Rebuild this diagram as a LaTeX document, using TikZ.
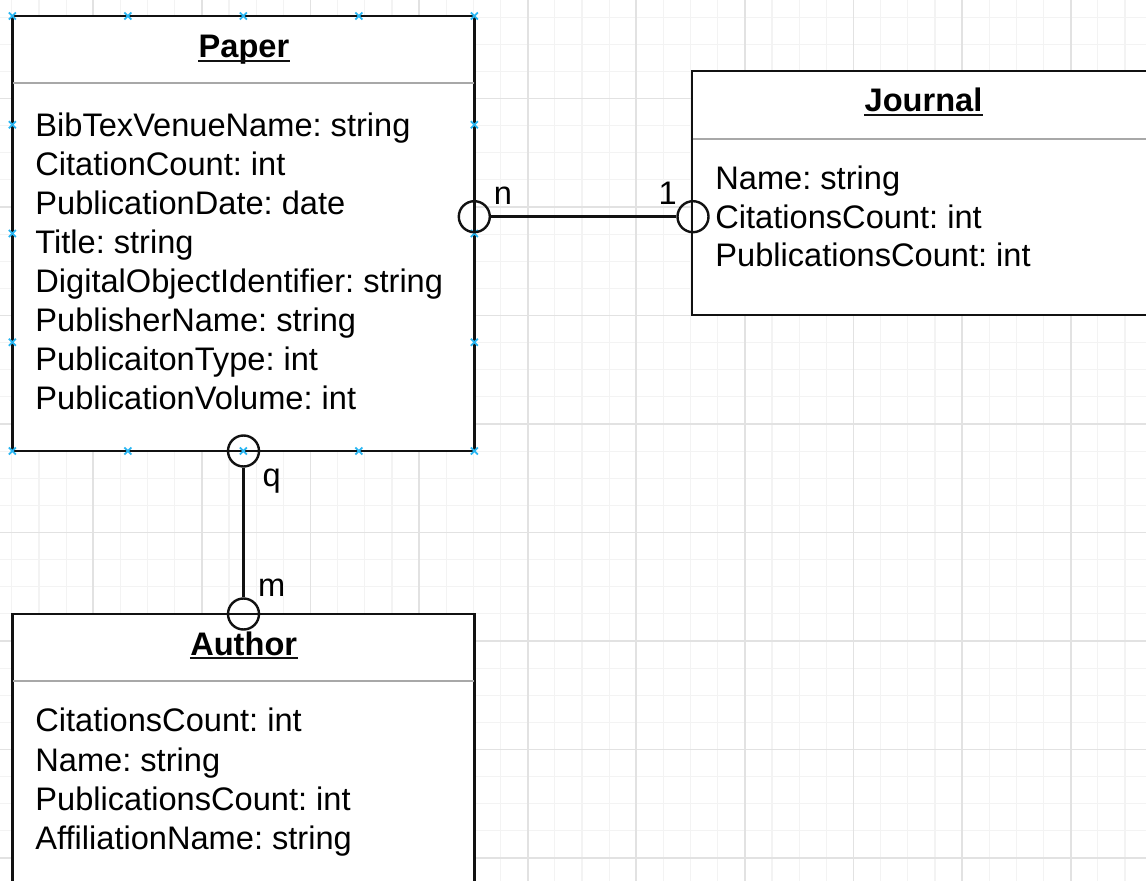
\documentclass[tikz,border=0pt]{standalone}
\usepackage{fontspec}
\setmainfont{Liberation Sans}
\frenchspacing
\definecolor{gridminor}{HTML}{F3F3F3}
\definecolor{gridmajor}{HTML}{E2E2E2}
\definecolor{sepgray}{HTML}{A8A8A8}
\definecolor{handle}{HTML}{29B6F2}
\definecolor{ink}{HTML}{111111}
\begin{document}
\begin{tikzpicture}[x=0.5pt,y=-0.5pt,
  box/.style={draw=ink, line width=1.2pt, fill=white, inner sep=0pt, outer sep=0pt, anchor=north west},
  sepline/.style={draw=sepgray, line width=1pt},
  titletext/.style={font=\fontsize{16.3}{19.5}\selectfont\bfseries, inner sep=0pt, anchor=base},
  attr/.style={font=\fontsize{16.3}{19.5}\selectfont, inner sep=0pt, anchor=base west},
  card/.style={font=\fontsize{16.3}{19.5}\selectfont, inner sep=0pt, anchor=base},
  ring/.style={circle, draw=ink, line width=1.2pt, minimum size=15.5pt, inner sep=0pt},
  conn/.style={draw=ink, line width=1.2pt},
  uline/.style={draw=ink, line width=1pt},
  handlemark/.style={draw=handle, line width=0.9pt}]
\useasboundingbox (0,0) rectangle (1146,881);
\clip (0,0) rectangle (1146,881);
\fill[white] (0,0) rectangle (1146,881);
% grid
\foreach \k in {0,...,43} {\draw[gridminor, line width=0.6pt] ({-15.3+27.15*\k},0) -- ({-15.3+27.15*\k},881);}
\foreach \k in {0,...,33} {\draw[gridminor, line width=0.6pt] (0,{-10+27.125*\k}) -- (1146,{-10+27.125*\k});}
\foreach \k in {0,...,11} {\draw[gridmajor, line width=0.9pt] ({-15.3+108.6*\k},0) -- ({-15.3+108.6*\k},881);}
\foreach \k in {0,...,8} {\draw[gridmajor, line width=0.9pt] (0,{-10+108.5*\k}) -- (1146,{-10+108.5*\k});}

% Paper
\node[box, minimum width=231pt, minimum height=217.5pt] (paper) at (12.3,16) {};
\draw[sepline] (13,83.3) -- (473.6,83.3);
\node[titletext] (ptitle) at (244,57.5) {Paper};
\draw[uline] ([yshift=-1.75pt]ptitle.base west) -- ([yshift=-1.75pt]ptitle.base east);
\foreach \t [count=\i] in {BibTexVenueName: string, CitationCount: int, PublicationDate: date, Title: string, DigitalObjectIdentifier: string, PublisherName: string, PublicaitonType: int, PublicationVolume: int}
  {\node[attr] (pa\i) at (35,{137+39*(\i-1)}) {\t};}

% Journal
\node[box, minimum width=231.5pt, minimum height=122pt] (journal) at (692,71) {};
\draw[sepline] (692.7,139) -- (1155,139);
\node[titletext] (jtitle) at (923.5,112) {Journal};
\draw[uline] ([yshift=-1.75pt]jtitle.base west) -- ([yshift=-1.75pt]jtitle.base east);
\foreach \t [count=\i] in {Name: string, CitationsCount: int, PublicationsCount: int}
  {\node[attr] (ja\i) at (715,{189.5+38.7*(\i-1)}) {\t};}

% Author
\node[box, minimum width=231pt, minimum height=160pt] (author) at (12.3,614) {};
\draw[sepline] (13,681) -- (473.6,681);
\node[titletext] (atitle) at (243.7,655) {Author};
\draw[uline] ([yshift=-1.75pt]atitle.base west) -- ([yshift=-1.75pt]atitle.base east);
\foreach \t [count=\i] in {CitationsCount: int, Name: string, PublicationsCount: int, AffiliationName: string}
  {\node[attr] (aa\i) at (35,{732+39.3*(\i-1)}) {\t};}

% selection handles on Paper
\foreach \hx in {12.3,127.8,243.3,358.8,474.3} {
  \foreach \hy in {16,451} {
    \draw[handlemark] (\hx-3.5,\hy-3.5) -- (\hx+3.5,\hy+3.5) (\hx-3.5,\hy+3.5) -- (\hx+3.5,\hy-3.5);
  }
}
\foreach \hx in {12.3,474.3} {
  \foreach \hy in {124.75,233.5,342.25} {
    \draw[handlemark] (\hx-3.5,\hy-3.5) -- (\hx+3.5,\hy+3.5) (\hx-3.5,\hy+3.5) -- (\hx+3.5,\hy-3.5);
  }
}

% connectors
\node[ring] (r1) at (474.3,216.7) {};
\node[ring] (r2) at (693,216.7) {};
\draw[conn] (r1) -- (r2);
\node[ring] (r3) at (243.5,451) {};
\node[ring] (r4) at (243.5,614) {};
\draw[conn] (r3) -- (r4);

\node[card] (ln) at (503,205) {n};
\node[card] (l1) at (667.7,205) {1};
\node[card] (lq) at (271.7,486.7) {q};
\node[card] (lm) at (271.7,596.7) {m};
\end{tikzpicture}
\end{document}
